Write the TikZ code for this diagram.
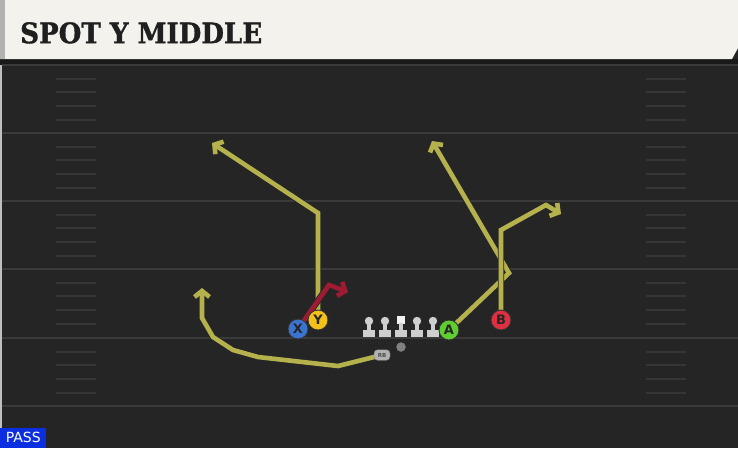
\documentclass[tikz,border=0pt]{standalone}
\usepackage{fontspec}
\usepackage{graphicx}
\usetikzlibrary{arrows.meta}
\newfontfamily\titlefont[BoldFeatures={FakeBold=1.3}]{DejaVu Serif}
\newfontfamily\labfont{DejaVu Sans}
\definecolor{fieldbg}{HTML}{252525}
\definecolor{headerbg}{HTML}{F4F2EC}
\definecolor{fieldline}{HTML}{3A3A3A}
\definecolor{hashcol}{HTML}{363636}
\definecolor{routeyellow}{HTML}{B5B24E}
\definecolor{routered}{HTML}{9E1B32}
\definecolor{pxblue}{HTML}{3B74D0}
\definecolor{pyellow}{HTML}{F2C21B}
\definecolor{pgreen}{HTML}{5FCF30}
\definecolor{pred}{HTML}{DD3040}
\definecolor{linegrey}{HTML}{CFCFCF}
\definecolor{passblue}{HTML}{0B2EE0}
\pgfdeclarelayer{field}
\pgfdeclarelayer{routes}
\pgfsetlayers{field,routes,main}
\tikzset{
  yardline/.style={draw=fieldline, line width=1.6pt},
  hashmark/.style={draw=hashcol, line width=1.3pt},
  routebase/.style={line width=4.6pt, line join=miter,
     preaction={draw=black!85, line width=6.4pt},
     -{Straight Barb[length=6pt,width=15pt]}},
  routeY/.style={routebase, draw=routeyellow},
  routeR/.style={routebase, draw=routered},
  player/.style={circle, draw=black!80, line width=0.9pt, minimum size=20pt, inner sep=0pt,
     font=\labfont\bfseries\fontsize{13}{13}\selectfont, text=black!85},
  lineman/.style={fill=linegrey},
  rbbox/.style={draw=black!55, fill=black!30, rounded corners=3.5pt, minimum width=16pt,
     minimum height=10.5pt, inner sep=0pt, font=\labfont\bfseries\fontsize{5.5}{5.5}\selectfont, text=black!70}
}
\begin{document}
\begin{tikzpicture}[x=1pt,y=-1pt]
\useasboundingbox (0,0) rectangle (738,448);
\begin{pgfonlayer}{field}
  \fill[fieldbg] (0,0) rectangle (738,448);
  % header
  \fill[black!90] (0,59) rectangle (738,65);
  \fill[headerbg] (0,0) -- (738,0) -- (738,48) -- (732,59) -- (0,59) -- cycle;
  \fill[black!30] (0,0) rectangle (5,59);
  \fill[black!25] (0,65) rectangle (2,448);
  % yard lines
  \foreach \yy in {65,133,201,269,338,406} {
    \draw[yardline] (2,\yy) -- (738,\yy);
  }
  % hash marks
  \foreach \yy in {65,133,201,269,338} {
    \foreach \dd in {14,27,41,55} {
      \draw[hashmark] (56,\yy+\dd) -- (96,\yy+\dd);
      \draw[hashmark] (646,\yy+\dd) -- (686,\yy+\dd);
    }
  }
\end{pgfonlayer}

% title
\node[anchor=north west, inner sep=0pt, text=black!88] (title) at (20,22)
  {\resizebox{242pt}{21pt}{\titlefont\bfseries SPOT Y MIDDLE}};

% offensive line
\foreach \x in {369,385,417,433} {
  \fill[lineman] (\x,321) circle (4.2pt);
}
\fill[white!95!black] (397,315.5) rectangle (405,323.5);
\foreach \x in {369,385,401,417,433} {
  \fill[lineman] (\x-2.2,323) rectangle (\x+2.2,330);
  \fill[lineman] (\x-6,330) rectangle (\x+6,336.5);
}
\node[circle, fill=black!50, minimum size=9.5pt, inner sep=0pt] (qb) at (401,347) {};

% players
\node[rbbox] (rb) at (382,355) {RB};
\node[player, fill=pxblue] (X) at (298,329) {X};
\node[player, fill=pyellow] (Y) at (318,320) {Y};
\node[player, fill=pgreen] (A) at (449,330) {A};
\node[player, fill=pred] (B) at (501,320) {B};

% route ends
\coordinate (xend) at (348,292);
\coordinate (yend) at (212,143);
\coordinate (aend) at (432,141);
\coordinate (bend) at (561,214);
\coordinate (rbend) at (202,288);

\begin{pgfonlayer}{routes}
  \draw[routeY] (Y.center) -- (318,213) -- (yend);
  \draw[routeY] (rb.center) -- (338,366) -- (258,357) -- (233,350) -- (213,337) -- (202,318) -- (rbend);
  \draw[routeY] (A.center) -- (509,273) -- (aend);
  \draw[routeY] (B.center) -- (501,230) -- (546,205) -- (bend);
  \draw[routeR] (X.center) -- (329,285) -- (xend);
\end{pgfonlayer}

% play type
\node[anchor=south west, fill=passblue, minimum width=46pt, minimum height=20pt, inner sep=0pt,
  text=white, font=\labfont\fontsize{14}{14}\selectfont] (pass) at (0,448) {PASS};
\end{tikzpicture}
\end{document}
